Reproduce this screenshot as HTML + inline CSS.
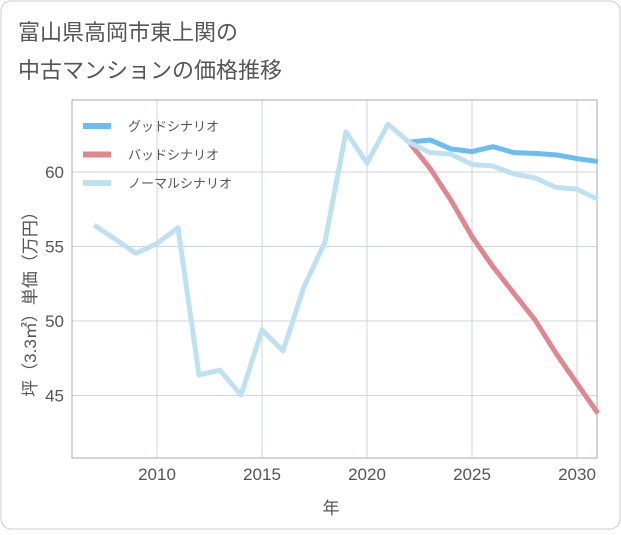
<!DOCTYPE html>
<html><head><meta charset="utf-8"><style>
body{margin:0;background:#fff;font-family:"Liberation Sans","Noto Sans CJK JP",sans-serif;}
</style></head><body>
<svg width="621" height="530" xmlns="http://www.w3.org/2000/svg" font-family="Liberation Sans, Noto Sans CJK JP, sans-serif">
<rect x="1" y="1" width="619" height="528" rx="10" fill="#fff" stroke="#ccc"/>
<text x="18" y="40" font-size="22" fill="#555">富山県高岡市東上関の</text>
<text x="18" y="78" font-size="22" fill="#555">中古マンションの価格推移</text>
<g id="grid"></g>
<rect x="72" y="100" width="525" height="358" fill="none" stroke="#aaa"/>
<g id="lines"></g>
<g id="legend"></g>
<text x="0" y="0" font-size="17" fill="#555" text-anchor="middle" transform="translate(36,300) rotate(-90)">坪（3.3㎡）単価（万円）</text>
<text x="331" y="514" font-size="17" fill="#555" text-anchor="middle">年</text>
</svg>
<script>
const years=[2007,2008,2009,2010,2011,2012,2013,2014,2015,2016,2017,2018,2019,2020,2021,2022,2023,2024,2025,2026,2027,2028,2029,2030,2031];
const normal=[56.44,55.5,54.54,55.2,56.26,46.38,46.7,45.03,49.4,48.0,52.3,55.3,62.7,60.6,63.2,62.0,61.3,61.2,60.5,60.4,59.87,59.6,58.97,58.84,58.17];
const goodYears=[2022,2023,2024,2025,2026,2027,2028,2029,2030,2031];
const good=[62.0,62.15,61.55,61.37,61.7,61.3,61.25,61.15,60.9,60.7];
const bad=[62.0,60.25,58.1,55.66,53.64,51.85,50.07,47.83,45.8,43.8];
const xTicks=[2010,2015,2020,2025,2030];
const yTicks=[45,50,55,60];
const NS="http://www.w3.org/2000/svg";
const X=y=>94+(y-2007)*21;
const Y=v=>172+(60-v)*14.9;
const grid=document.getElementById('grid');
xTicks.forEach(t=>{
 const l=document.createElementNS(NS,'line');
 l.setAttribute('x1',X(t));l.setAttribute('x2',X(t));l.setAttribute('y1',100);l.setAttribute('y2',458);
 l.setAttribute('stroke','#c9d6e3');
 
 
 grid.appendChild(l);
 const tx=document.createElementNS(NS,'text');
 tx.setAttribute('x',X(t));tx.setAttribute('y',480);tx.setAttribute('font-size','17');tx.setAttribute('fill','#555');tx.setAttribute('text-anchor','middle');
 tx.textContent=t;
 
 
 grid.appendChild(tx);
});
yTicks.forEach(t=>{
 const l=document.createElementNS(NS,'line');
 l.setAttribute('x1',72);l.setAttribute('x2',597);l.setAttribute('y1',Y(t));l.setAttribute('y2',Y(t));
 l.setAttribute('stroke','#c9d6e3');
 
 
 grid.appendChild(l);
 const tx=document.createElementNS(NS,'text');
 tx.setAttribute('x',64);tx.setAttribute('y',Y(t)+6);tx.setAttribute('font-size','17');tx.setAttribute('fill','#555');tx.setAttribute('text-anchor','end');
 tx.textContent=t;
 
 
 grid.appendChild(tx);
});
const lines=document.getElementById('lines');
function drawLine(xs,vs,color,name){
 const p=document.createElementNS(NS,'polyline');
 p.setAttribute('points',xs.map((y,i)=>X(y)+','+Y(vs[i])).join(' '));
 p.setAttribute('fill','none');p.setAttribute('stroke',color);p.setAttribute('stroke-width','5');p.setAttribute('stroke-linejoin','round');
 
 
 lines.appendChild(p);
}
drawLine(goodYears,good,'#6bbcf0','good-scenario-line');
drawLine(goodYears,bad,'#e0868e','bad-scenario-line');
drawLine(years,normal,'#bde1f0','normal-scenario-line');
const legend=document.getElementById('legend');
const legendLabels=['グッドシナリオ','バッドシナリオ','ノーマルシナリオ'];
const legendColors=['#6bbcf0','#e0868e','#bde1f0'];
legendLabels.forEach((lab,i)=>{
 const yy=126+i*28.5;
 const r=document.createElementNS(NS,'line');
 r.setAttribute('x1',83);r.setAttribute('x2',111);r.setAttribute('y1',yy);r.setAttribute('y2',yy);
 r.setAttribute('stroke',legendColors[i]);r.setAttribute('stroke-width','6');
 
 
 legend.appendChild(r);
 const t=document.createElementNS(NS,'text');
 t.setAttribute('x',128);t.setAttribute('y',yy+5);t.setAttribute('font-size','13');t.setAttribute('fill','#555');
 t.textContent=lab;
 
 
 legend.appendChild(t);
});
</script>
</body></html>
